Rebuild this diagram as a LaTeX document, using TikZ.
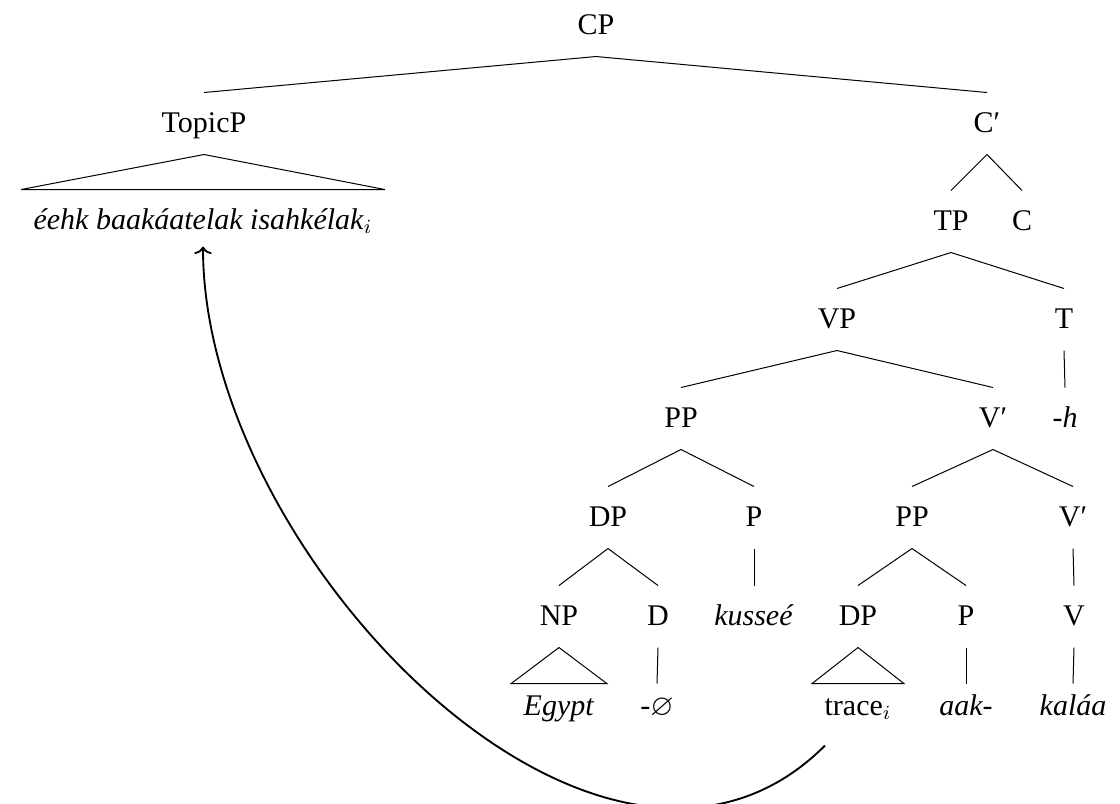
\documentclass[tikz,border=0pt]{standalone}
\usepackage{fontspec}
\usepackage{amssymb}
\setmainfont{Liberation Serif}
\usetikzlibrary{arrows.meta,calc}
\begin{document}
\begin{tikzpicture}[x=0.4pt,y=-0.4pt,
  tn/.style={inner ysep=0pt, inner xsep=0pt, text height=15.6pt, text depth=8.8pt,
             anchor=base, font=\fontsize{12}{14}\selectfont},
  lf/.style={tn, text height=12.4pt},
  roofed/.style={inner xsep=4.8pt},
  branch/.style={line width=0.4pt, line join=miter},
  movement/.style={line width=0.75pt, -{To[width=7pt,length=3pt]}}]
\useasboundingbox (0,0) rectangle (1120,803);

% nodes
\node[tn] (CP)   at (596,34)  {CP};
\node[tn] (TopP) at (204,132) {TopicP};
\node[tn] (Cb)   at (987,132) {C′};
\node[tn,roofed] (topic) at (203,229) {\textit{éehk baakáatelak isahkélak}$_i$};
\node[tn] (TP)   at (951,230) {TP};
\node[tn] (C)    at (1022,230) {C};
\node[tn] (VP)   at (837,328) {VP};
\node[tn] (T)    at (1064,328) {T};
\node[tn] (PPa)  at (681,427) {PP};
\node[tn] (Vba)  at (993,427) {V′};
\node[tn] (h)    at (1065,427) {\textit{-h}};
\node[tn] (DPa)  at (608,526) {DP};
\node[tn] (Pa)   at (754,526) {P};
\node[tn] (PPb)  at (912,526) {PP};
\node[tn] (Vbb)  at (1073,526) {V′};
\node[tn] (NP)   at (559,625) {NP};
\node[tn] (D)    at (658,625) {D};
\node[tn] (kus)  at (754,625) {\textit{kusseé}};
\node[tn] (DPb)  at (858,625) {DP};
\node[tn] (Pb)   at (966,625) {P};
\node[tn] (V)    at (1074,625) {V};
\node[lf,roofed] (egypt) at (559,715) {\textit{Egypt}};
\node[lf] (null) at (657,715) {\textit{-}$\varnothing$};
\node[lf,roofed] (trace) at (858,715) {trace$_i$};
\node[lf] (aak)  at (966,715) {\textit{aak-}};
\node[lf] (kal)  at (1073,715) {\textit{kaláa}};

% branches
\draw[branch] (TopP.north) -- (CP.south) -- (Cb.north);
\draw[branch] (topic.north west) -- (TopP.south) -- (topic.north east) -- cycle;
\draw[branch] (TP.north) -- (Cb.south) -- (C.north);
\draw[branch] (VP.north) -- (TP.south) -- (T.north);
\draw[branch] (T.south) -- (h.north);
\draw[branch] (PPa.north) -- (VP.south) -- (Vba.north);
\draw[branch] (DPa.north) -- (PPa.south) -- (Pa.north);
\draw[branch] (PPb.north) -- (Vba.south) -- (Vbb.north);
\draw[branch] (NP.north) -- (DPa.south) -- (D.north);
\draw[branch] (Pa.south) -- (kus.north);
\draw[branch] (DPb.north) -- (PPb.south) -- (Pb.north);
\draw[branch] (Vbb.south) -- (V.north);
\draw[branch] (egypt.north west) -- (NP.south) -- (egypt.north east) -- cycle;
\draw[branch] (D.south) -- (null.north);
\draw[branch] (trace.north west) -- (DPb.south) -- (trace.north east) -- cycle;
\draw[branch] (Pb.south) -- (aak.north);
\draw[branch] (V.south) -- (kal.north);

% movement arrow
\draw[movement] ([shift={(-33,8)}]trace.south) to[out=-135,in=-90] ([yshift=2]topic.south);
\end{tikzpicture}
\end{document}
